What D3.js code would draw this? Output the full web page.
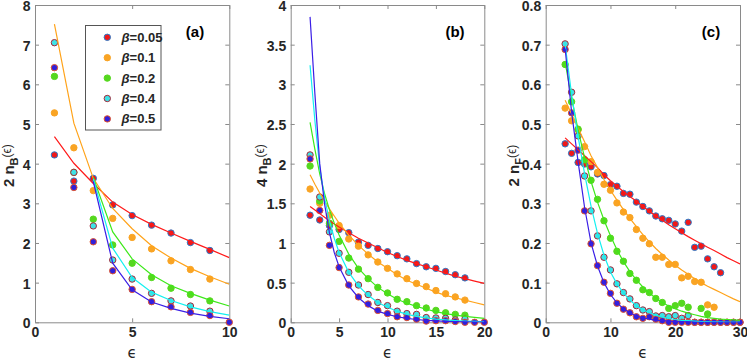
<!DOCTYPE html>
<html><head><meta charset="utf-8">
<script src="https://cdnjs.cloudflare.com/ajax/libs/d3/7.8.5/d3.min.js"></script>
<style>body{margin:0;background:#fff}svg{display:block}</style>
</head><body>
<svg id="chart" width="747" height="361"></svg>
<script>
// ---------- DATA ----------
const betaLabels = ["0.05", "0.1", "0.2", "0.4", "0.5"];

// Panel (a): 2 n_B(eps)
const aPtX = [1, 2, 3, 4, 5, 6, 7, 8, 9, 10];
const aP005 = [4.22, 3.56, 3.63, 2.96, 2.69, 2.45, 2.25, 2.01, 1.81, null];
const aP01  = [5.28, 4.40, 3.32, 2.62, 2.14, 1.85, 1.55, 1.33, 1.09, null];
const aP02  = [6.20, 3.78, 2.60, 1.95, 1.49, 1.13, 0.86, 0.70, 0.54, null];
const aP04  = [7.05, 3.78, 2.43, 1.57, 1.09, 0.73, 0.54, 0.41, 0.28, null];
const aP05  = [6.42, 3.40, 2.03, 1.30, 0.83, 0.52, 0.39, 0.25, 0.17, 0.00];
const aLnX = [1, 2, 3, 4, 5, 6, 7, 8, 9, 10];
const aL005 = [4.68, 4.01, 3.50, 3.03, 2.72, 2.47, 2.25, 2.04, 1.84, 1.63];
const aL01  = [7.52, 5.02, 3.63, 2.87, 2.36, 1.93, 1.62, 1.36, 1.15, 0.96];
const aL02  = [null, null, 3.65, 2.28, 1.60, 1.20, 0.92, 0.73, 0.56, 0.41];
const aL04  = [null, null, 3.62, 1.87, 1.13, 0.76, 0.55, 0.39, 0.27, 0.18];
const aL05  = [null, null, 3.55, 1.49, 0.82, 0.51, 0.35, 0.23, 0.15, 0.09];

// Panel (b): 4 n_B(eps)
const bPtX = [2, 3, 4, 5, 6, 7, 8, 9, 10, 11, 12, 13, 14, 15, 16, 17, 18, 19, 20];
const bP005 = [1.35, 1.29, 1.22, 1.17, 1.13, 1.01, 0.97, 0.93, 0.89, 0.84, 0.80, 0.74, 0.70, 0.68, 0.64, 0.60, 0.56, null, null];
const bP01  = [1.68, 1.50, 1.35, 1.22, 1.05, 0.96, 0.85, 0.76, 0.68, 0.61, 0.55, 0.49, 0.45, 0.40, 0.36, 0.32, 0.28, null, null];
const bP02  = [1.97, 1.53, 1.25, 1.02, 0.81, 0.67, 0.55, 0.44, 0.37, 0.29, 0.26, 0.21, 0.18, 0.15, 0.12, 0.10, 0.09, null, null];
const bP04  = [2.11, 1.58, 1.14, 0.87, 0.63, 0.47, 0.35, 0.25, 0.21, 0.14, 0.11, 0.10, 0.06, 0.055, 0.05, 0.03, 0.04, null, null];
const bP05  = [2.06, 1.41, 0.97, 0.69, 0.47, 0.32, 0.23, 0.15, 0.11, 0.07, 0.06, 0.04, 0.015, 0.02, 0.02, 0.01, 0.00, 0.00, 0.00];
const bLnX = [2, 2.5, 3, 3.5, 4, 4.5, 5, 6, 7, 8, 9, 10, 11, 12, 13, 14, 15, 16, 17, 18, 19, 20];
const bL005 = [1.46, 1.415, 1.37, 1.325, 1.28, 1.24, 1.20, 1.13, 1.06, 1.00, 0.94, 0.88, 0.83, 0.78, 0.74, 0.70, 0.66, 0.62, 0.58, 0.55, 0.52, 0.49];
const bL01  = [1.86, 1.74, 1.63, 1.53, 1.43, 1.34, 1.25, 1.10, 0.97, 0.86, 0.76, 0.68, 0.60, 0.53, 0.48, 0.43, 0.38, 0.34, 0.31, 0.28, 0.25, 0.22];
const bL02  = [2.52, 2.18, 1.87, 1.62, 1.42, 1.25, 1.10, 0.86, 0.68, 0.55, 0.44, 0.36, 0.29, 0.24, 0.20, 0.165, 0.135, 0.11, 0.09, 0.075, 0.062, 0.05];
const bL04  = [3.24, 2.54, 1.95, 1.57, 1.28, 1.06, 0.88, 0.63, 0.46, 0.34, 0.25, 0.19, 0.14, 0.10, 0.075, 0.055, 0.04, 0.03, 0.022, 0.016, 0.012, 0.009];
const bL05  = [3.85, 2.88, 2.00, 1.49, 1.13, 0.88, 0.70, 0.46, 0.31, 0.21, 0.14, 0.10, 0.07, 0.05, 0.035, 0.025, 0.018, 0.012, 0.008, 0.005, 0.003, 0.002];

// Panel (c): 2 n_F(eps)
const cPtX = [3, 4, 5, 6, 7, 8, 9, 10, 11, 12, 13, 14, 15, 16, 17, 18, 19, 20, 21, 22, 23, 24, 25, 26, 27, 28, 29, 30];
const cP005 = [0.450, 0.426, 0.403, 0.399, 0.392, 0.374, 0.370, 0.347, 0.343, 0.325, 0.323, 0.303, 0.292, 0.281, 0.268, 0.261, 0.257, 0.248, 0.230, 0.252, 0.189, 0.192, 0.160, 0.140, 0.125, null, null, null];
const cP01  = [0.540, 0.508, 0.485, 0.443, 0.405, 0.378, 0.348, 0.333, 0.301, 0.278, 0.264, 0.234, 0.212, 0.198, 0.164, 0.164, 0.146, 0.146, 0.112, 0.116, 0.103, 0.101, 0.044, 0.038, null, null, null, null];
const cP02  = [0.650, 0.556, 0.487, 0.410, 0.358, 0.310, 0.256, 0.212, 0.179, 0.154, 0.123, 0.106, 0.082, 0.075, 0.060, 0.050, 0.035, 0.042, 0.048, 0.038, null, 0.035, 0.021, null, null, null, null, null];
const cP04  = [0.702, 0.580, 0.470, 0.369, 0.281, 0.218, 0.164, 0.132, 0.097, 0.075, 0.059, 0.042, 0.031, 0.027, 0.016, 0.017, 0.014, 0.017, 0.010, 0.017, 0, 0, 0, 0, 0, 0, 0, 0];
const cP05  = [0.688, 0.528, 0.434, 0.281, 0.198, 0.143, 0.101, 0.073, 0.048, 0.033, 0.024, 0.014, 0.010, 0.014, 0.008, 0.004, 0, 0, 0, 0, 0, 0, 0, 0, 0, 0, 0, 0];
const cLnX = [3, 4, 5, 6, 7, 8, 9, 10, 11, 12, 13, 14, 15, 16, 17, 18, 19, 20, 21, 22, 23, 24, 25, 26, 27, 28, 29, 30];
const cL005 = [0.465, 0.450, 0.435, 0.420, 0.405, 0.390, 0.372, 0.357, 0.343, 0.330, 0.317, 0.305, 0.292, 0.280, 0.268, 0.257, 0.246, 0.236, 0.226, 0.216, 0.207, 0.198, 0.189, 0.181, 0.172, 0.163, 0.155, 0.147];
const cL01  = [0.560, 0.525, 0.490, 0.455, 0.420, 0.390, 0.360, 0.333, 0.308, 0.284, 0.262, 0.241, 0.221, 0.203, 0.186, 0.171, 0.157, 0.144, 0.132, 0.121, 0.110, 0.100, 0.091, 0.083, 0.075, 0.067, 0.059, 0.052];
const cL02  = [0.655, 0.565, 0.485, 0.415, 0.355, 0.303, 0.258, 0.218, 0.183, 0.153, 0.128, 0.107, 0.089, 0.074, 0.061, 0.050, 0.041, 0.034, 0.028, 0.023, 0.019, 0.015, 0.012, 0.010, 0.008, 0.007, 0.006, 0.005];
const cL04  = [0.700, 0.575, 0.468, 0.375, 0.293, 0.224, 0.169, 0.127, 0.097, 0.074, 0.056, 0.042, 0.032, 0.024, 0.018, 0.013, 0.010, 0.007, 0.005, 0.004, 0.003, 0.002, 0.0015, 0.001, 0.001, 0.0005, 0.0003, 0.0002];
const cL05  = [0.690, 0.530, 0.405, 0.290, 0.200, 0.142, 0.100, 0.070, 0.049, 0.034, 0.024, 0.016, 0.011, 0.008, 0.005, 0.004, 0.003, 0.002, 0.001, 0.001, 0, 0, 0, 0, 0, 0, 0, 0];

const aXTicks = [0, 5, 10];
const aYTicks = [0, 1, 2, 3, 4, 5, 6, 7, 8];
const bXTicks = [0, 5, 10, 15, 20];
const bYTicks = [0, 0.5, 1, 1.5, 2, 2.5, 3, 3.5, 4];
const cXTicks = [0, 10, 20, 30];
const cYTicks = [0, 0.1, 0.2, 0.3, 0.4, 0.5, 0.6, 0.7, 0.8];

// ---------- STYLE ----------
const styles = [
  {face: "#f01818", edge: "#2a7ccc", line: "#ff1a1a"},
  {face: "#f9a424", edge: "#f9a424", line: "#ffa31a"},
  {face: "#55d81e", edge: "#55d81e", line: "#3de81a"},
  {face: "#3ee2e6", edge: "#a8283a", line: "#14f0f0"},
  {face: "#3020da", edge: "#e4532a", line: "#3a1ee6"}
];

const panels = [
  {name: "(a)", x0: 35, x1: 229.3, xDom: [0, 10], yDom: [0, 8], xTicks: aXTicks, yTicks: aYTicks,
   ptX: aPtX, pts: [aP005, aP01, aP02, aP04, aP05], lnX: aLnX, lns: [aL005, aL01, aL02, aL04, aL05],
   ylab: ["2 n", "B", "(ϵ)"], ylabX: 14, labX: 195, legend: true},
  {name: "(b)", x0: 290.7, x1: 484.3, xDom: [0, 20], yDom: [0, 4], xTicks: bXTicks, yTicks: bYTicks,
   ptX: bPtX, pts: [bP005, bP01, bP02, bP04, bP05], lnX: bLnX, lns: [bL005, bL01, bL02, bL04, bL05],
   ylab: ["4 n", "B", "(ϵ)"], ylabX: 267, labX: 455},
  {name: "(c)", x0: 545.7, x1: 740, xDom: [0, 30], yDom: [0, 0.8], xTicks: cXTicks, yTicks: cYTicks,
   ptX: cPtX, pts: [cP005, cP01, cP02, cP04, cP05], lnX: cLnX, lns: [cL005, cL01, cL02, cL04, cL05],
   ylab: ["2 n", "F", "(ϵ)"], ylabX: 519, labX: 711}
];

const plotTop = 5, plotBottom = 322.3;
const FONT = "'Liberation Sans', Arial, Helvetica, sans-serif";
const svg = d3.select("#chart");
const axisColor = "#8a8a8a", textColor = "#262626";
const fmt = d => String(+d.toFixed(2));

panels.forEach((p, pi) => {
  const x = d3.scaleLinear().domain(p.xDom).range([p.x0, p.x1]);
  const y = d3.scaleLinear().domain(p.yDom).range([plotBottom, plotTop]);
  const g = svg.append("g");

  const clipId = "clip" + pi;
  svg.append("clipPath").attr("id", clipId).append("rect")
    .attr("x", p.x0).attr("y", plotTop).attr("width", p.x1 - p.x0).attr("height", plotBottom - plotTop);

  const styleAxis = sel => {
    sel.select(".domain").attr("stroke", axisColor).attr("stroke-width", 1);
    sel.selectAll(".tick line").attr("stroke", axisColor).attr("stroke-width", 1);
    sel.selectAll("text").attr("fill", textColor).attr("font-family", FONT)
      .attr("font-weight", "bold").attr("font-size", 14);
  };
  g.append("g").attr("transform", `translate(0,${plotBottom})`)
    .call(d3.axisBottom(x).tickValues(p.xTicks).tickFormat(fmt).tickSize(-4).tickSizeOuter(0).tickPadding(5))
    .call(styleAxis);
  g.append("g").attr("transform", `translate(0,${plotTop})`)
    .call(d3.axisTop(x).tickValues(p.xTicks).tickFormat("").tickSize(-4).tickSizeOuter(0))
    .call(styleAxis);
  g.append("g").attr("transform", `translate(${p.x0},0)`)
    .call(d3.axisLeft(y).tickValues(p.yTicks).tickFormat(fmt).tickSize(-4).tickSizeOuter(0).tickPadding(4.5))
    .call(styleAxis)
    .call(sel => sel.selectAll("text").attr("dy", "0.4em"));
  g.append("g").attr("transform", `translate(${p.x1},0)`)
    .call(d3.axisRight(y).tickValues(p.yTicks).tickFormat("").tickSize(-4).tickSizeOuter(0))
    .call(styleAxis);

  p.pts.forEach((arr, si) => {
    const data = p.ptX.map((xv, i) => ({x: xv, y: arr[i]})).filter(d => d.y !== null);
    g.append("g").selectAll("circle").data(data).join("circle")
      .attr("cx", d => x(d.x)).attr("cy", d => y(d.y)).attr("r", 3.2)
      .attr("fill", styles[si].face).attr("stroke", styles[si].edge).attr("stroke-width", 1);
  });
  const lineGen = d3.line().defined(d => d.y !== null).x(d => x(d.x)).y(d => y(d.y));
  p.lns.forEach((arr, si) => {
    const data = p.lnX.map((xv, i) => ({x: xv, y: arr[i]}));
    g.append("path").datum(data).attr("d", lineGen).attr("fill", "none")
      .attr("stroke", styles[si].line).attr("stroke-width", 1.2)
      .attr("clip-path", `url(#${clipId})`);
  });

  g.append("text").attr("x", p.labX).attr("y", 37).attr("text-anchor", "middle")
    .attr("font-family", FONT).attr("font-weight", "bold").attr("font-size", 15).attr("fill", "#000")
    .text(p.name);

  g.append("text").attr("x", (p.x0 + p.x1) / 2).attr("y", 358).attr("text-anchor", "middle")
    .attr("font-family", "'DejaVu Sans', sans-serif").attr("font-size", 15).attr("fill", textColor)
    .text("ϵ");

  const yl = g.append("text").attr("transform", `translate(${p.ylabX},${(plotTop + plotBottom) / 2 + 2}) rotate(-90)`)
    .attr("text-anchor", "middle").attr("font-family", FONT).attr("font-weight", "bold")
    .attr("font-size", 15).attr("fill", textColor);
  yl.append("tspan").text(p.ylab[0]);
  yl.append("tspan").attr("font-size", 11).attr("dy", 4).text(p.ylab[1]);
  yl.append("tspan").attr("font-size", 12).attr("font-weight", "normal").attr("dy", -7).text(p.ylab[2]);

  if (p.legend) {
    const lg = g.append("g");
    lg.append("rect").attr("x", 85.5).attr("y", 25.5).attr("width", 75.5).attr("height", 104.5)
      .attr("fill", "#fff").attr("stroke", "#555").attr("stroke-width", 1);
    betaLabels.forEach((b, si) => {
      const ry = 37.3 + si * 20.4;
      lg.append("circle").attr("cx", 107.3).attr("cy", ry).attr("r", 3.2)
        .attr("fill", styles[si].face).attr("stroke", styles[si].edge).attr("stroke-width", 1);
      const t = lg.append("text").attr("x", 121.5).attr("y", ry + 4.5)
        .attr("font-family", FONT).attr("font-weight", "bold").attr("font-size", 13).attr("fill", textColor);
      t.append("tspan").attr("font-style", "italic").text("β");
      t.append("tspan").text("=" + b);
    });
  }
});
</script>
</body></html>
